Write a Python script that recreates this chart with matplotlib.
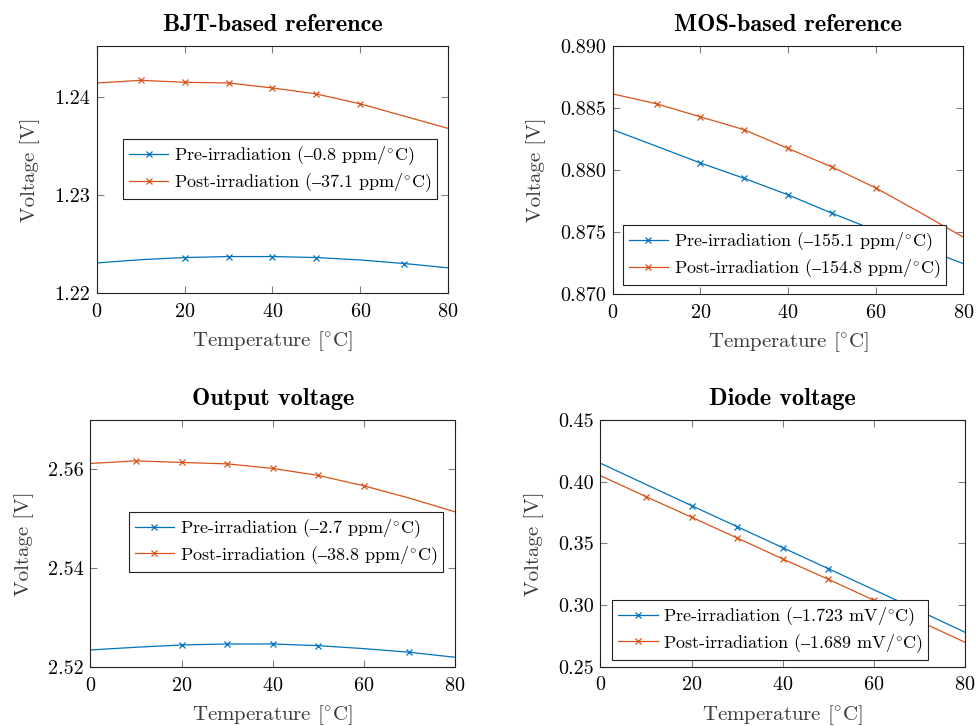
import numpy as np
import matplotlib
matplotlib.use("Agg")
import matplotlib.pyplot as plt
from matplotlib.ticker import FormatStrFormatter

plt.rcParams['font.family'] = ['cmr10', 'DejaVu Serif']
plt.rcParams['mathtext.fontset'] = 'cm'
plt.rcParams['axes.formatter.use_mathtext'] = True

# temperature grid [degC]
temp = [0, 10, 20, 30, 40, 50, 60, 70, 80]

# BJT-based reference [V]
bjt_pre = [1.22307, 1.22340, 1.22362, 1.22372, 1.22372, 1.22362, 1.22337, 1.22301, 1.22257]
bjt_post = [1.24143, 1.24170, 1.24150, 1.24143, 1.24092, 1.24031, 1.23930, 1.23805, 1.23680]

# MOS-based reference [V]
mos_pre = [0.88325, 0.88192, 0.88057, 0.87933, 0.87800, 0.87652, 0.87512, 0.87380, 0.87245]
mos_post = [0.88614, 0.88534, 0.88429, 0.88325, 0.88174, 0.88025, 0.87856, 0.87660, 0.87459]

# output voltage [V]
out_pre = [2.52350, 2.52405, 2.52451, 2.52471, 2.52471, 2.52437, 2.52377, 2.52303, 2.52202]
out_post = [2.56121, 2.56174, 2.56141, 2.56113, 2.56020, 2.55879, 2.55669, 2.55420, 2.55143]

# diode voltage [V]
dio_pre = [0.41491, 0.39773, 0.38055, 0.36353, 0.34651, 0.32949, 0.31240, 0.29530, 0.27795]
dio_post = [0.40486, 0.38784, 0.37115, 0.35437, 0.33735, 0.32090, 0.30388, 0.28690, 0.26984]

pre_marks = [2, 3, 4, 5, 7]
post_marks = [1, 2, 3, 4, 5, 6]

# cmr10 has no en dash and no degree sign, so both go through mathtext
dash = '$\\mathrm{\u2013}$'
deg = r'$^{\circ}$C'


def lab(kind, val, unit):
    return kind + '-irradiation (' + dash + val + ' ' + unit + '/' + deg + ')'


panels = [
    dict(title='BJT-based reference', pre=bjt_pre, post=bjt_post,
         leg=(lab('Pre', '0.8', 'ppm'), lab('Post', '37.1', 'ppm')),
         ylim=(1.22, 1.2452), yticks=[1.22, 1.23, 1.24], fmt='%.2f',
         pos=[0.0993, 0.5964, 0.3592, 0.3402], legpos=(0.075, 0.38)),
    dict(title='MOS-based reference', pre=mos_pre, post=mos_post,
         leg=(lab('Pre', '155.1', 'ppm'), lab('Post', '154.8', 'ppm')),
         ylim=(0.870, 0.890), yticks=[0.870, 0.875, 0.880, 0.885, 0.890], fmt='%.3f',
         pos=[0.6271, 0.5950, 0.3589, 0.3416], legpos=(0.03, 0.036)),
    dict(title='Output voltage', pre=out_pre, post=out_post,
         leg=(lab('Pre', '2.7', 'ppm'), lab('Post', '38.8', 'ppm')),
         ylim=(2.52, 2.57), yticks=[2.52, 2.54, 2.56], fmt='%.2f',
         pos=[0.0926, 0.0809, 0.3731, 0.3406], legpos=(0.106, 0.385)),
    dict(title='Diode voltage', pre=dio_pre, post=dio_post,
         leg=(lab('Pre', '1.723', 'mV'), lab('Post', '1.689', 'mV')),
         ylim=(0.25, 0.45), yticks=[0.25, 0.30, 0.35, 0.40, 0.45], fmt='%.2f',
         pos=[0.6146, 0.0817, 0.3730, 0.3398], legpos=(0.033, 0.027)),
]

blue = '#0072BD'
orange = '#D95319'

fig = plt.figure(figsize=(9.77, 7.26), dpi=100)

for p in panels:
    ax = fig.add_axes(p['pos'])
    ax.plot(temp, p['pre'], color=blue, lw=0.9, marker='x', ms=5, mew=0.9,
            markevery=pre_marks, label=p['leg'][0])
    ax.plot(temp, p['post'], color=orange, lw=0.9, marker='x', ms=5, mew=0.9,
            markevery=post_marks, label=p['leg'][1])
    ax.set_xlim(0, 80)
    ax.set_ylim(*p['ylim'])
    ax.set_xticks([0, 20, 40, 60, 80])
    ax.set_yticks(p['yticks'])
    ax.yaxis.set_major_formatter(FormatStrFormatter(p['fmt']))
    ax.tick_params(direction='in', top=True, right=True, length=5, width=0.8,
                   color='#808080', labelsize=14.5)
    ax.tick_params(axis='x', pad=7)
    ax.tick_params(axis='y', pad=5)
    for s in ax.spines.values():
        s.set_linewidth(0.8)
        s.set_color('#222222')
    ax.set_xlabel('Temperature [' + deg + ']', fontsize=15, labelpad=6, color='#3a3a3a')
    ax.set_ylabel('Voltage [V]', fontsize=15, labelpad=10, color='#3a3a3a')
    ax.set_title(p['title'], fontsize=17.5, fontweight='bold',
                 family=['cmb10', 'DejaVu Serif'], pad=11)
    leg = ax.legend(loc='lower left', bbox_to_anchor=p['legpos'], borderaxespad=0,
                    fontsize=13, frameon=True, fancybox=False, edgecolor='#222222',
                    framealpha=1, handlelength=2.2, borderpad=0.3,
                    labelspacing=0.2, handletextpad=0.3)
    leg.get_frame().set_linewidth(0.8)

fig.savefig('out.png', dpi=100)
